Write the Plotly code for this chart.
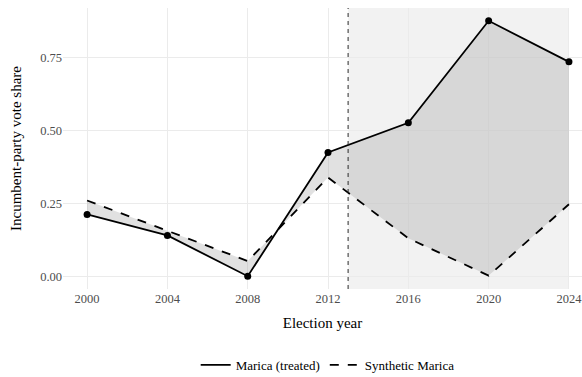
import plotly.graph_objects as go

# Election years and incumbent-party vote shares
years = [2000, 2004, 2008, 2012, 2016, 2020, 2024]
treated = [0.212, 0.140, 0.000, 0.425, 0.527, 0.877, 0.736]
synthetic = [0.260, 0.155, 0.052, 0.339, 0.130, 0.002, 0.247]
treatment_year = 2013
x_ticks = [2000, 2004, 2008, 2012, 2016, 2020, 2024]
y_ticks = [0.0, 0.25, 0.5, 0.75]
y_tick_labels = ["0.00", "0.25", "0.50", "0.75"]

FONT = "Liberation Serif"

fig = go.Figure()

# Gap ribbon between treated and synthetic series
fig.add_trace(go.Scatter(x=years, y=treated, mode="lines", line=dict(width=0),
                         showlegend=False, hoverinfo="skip"))
fig.add_trace(go.Scatter(x=years, y=synthetic, mode="lines", line=dict(width=0),
                         fill="tonexty", fillcolor="rgba(128,128,128,0.24)",
                         showlegend=False, hoverinfo="skip"))

# Series lines
fig.add_trace(go.Scatter(x=years, y=treated, mode="lines", name="Marica (treated)",
                         line=dict(color="black", width=1.8)))
fig.add_trace(go.Scatter(x=years, y=synthetic, mode="lines", name="Synthetic Marica",
                         line=dict(color="black", width=1.8, dash="dash")))
fig.add_trace(go.Scatter(x=years, y=treated, mode="markers", showlegend=False,
                         marker=dict(color="black", size=7)))

# Post-treatment period shading and treatment marker
fig.add_shape(type="rect", xref="x", yref="paper", x0=treatment_year, x1=max(years),
              y0=0, y1=1, fillcolor="#f2f2f2", line=dict(width=0), layer="below")
fig.add_shape(type="line", xref="x", yref="paper", x0=treatment_year, x1=treatment_year,
              y0=0, y1=1, line=dict(color="#2a2a2a", width=1, dash="4px,4px"))

fig.update_layout(
    width=582, height=377,
    margin=dict(l=63, r=0, t=8, b=88, autoexpand=False),
    plot_bgcolor="white", paper_bgcolor="white",
    font=dict(family=FONT, color="black"),
    legend=dict(orientation="h", x=0.51, xanchor="center", y=-0.27, yanchor="middle",
                font=dict(family=FONT, size=13, color="black"),
                traceorder="normal", itemwidth=30, tracegroupgap=0),
    xaxis=dict(range=[1998.8, 2024.65], tickvals=x_ticks, ticks="",
               showgrid=True, gridcolor="#ebebeb", gridwidth=1, zeroline=False,
               automargin=False, ticklabeloverflow="allow",
               tickfont=dict(family=FONT, size=12.5, color="#4d4d4d"),
               title=dict(text="Election year", font=dict(family=FONT, size=15, color="black"),
                          standoff=12)),
    yaxis=dict(range=[-0.044, 0.921], tickvals=y_ticks, ticktext=y_tick_labels, ticks="",
               showgrid=True, gridcolor="#ebebeb", gridwidth=1, zeroline=False,
               automargin=False, ticklabeloverflow="allow",
               tickfont=dict(family=FONT, size=12.5, color="#4d4d4d"),
               title=dict(text="Incumbent-party vote share",
                          font=dict(family=FONT, size=15, color="black"), standoff=14)),
)

fig.write_html("out.html")
